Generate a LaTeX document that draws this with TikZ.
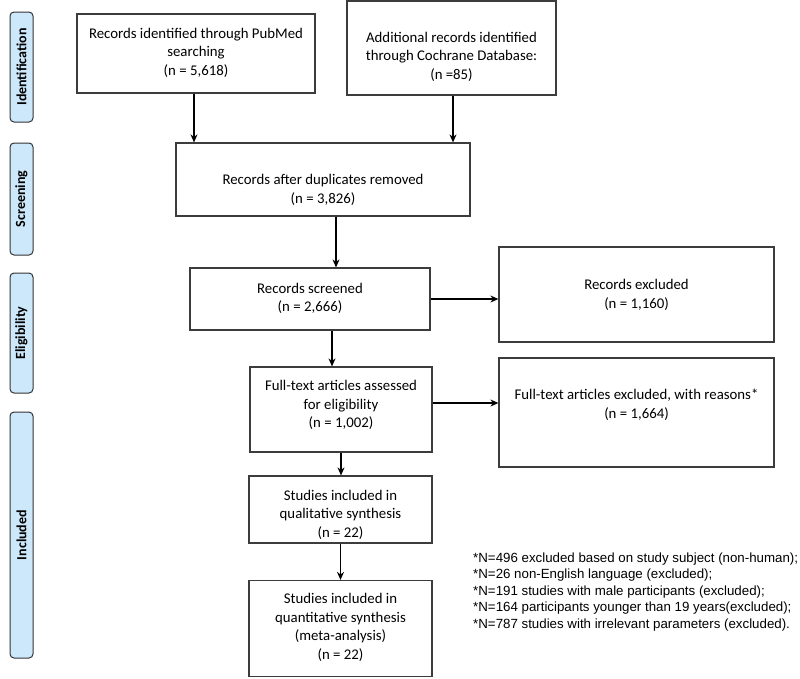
\documentclass[tikz,border=0pt]{standalone}
\usepackage{fontspec}
\setmainfont{Carlito}
\newfontfamily\notefont{Liberation Sans}
\usetikzlibrary{arrows.meta}
\definecolor{barfill}{RGB}{204,232,250}
\definecolor{boxline}{RGB}{60,60,60}
\tikzset{
  box/.style={draw=boxline, line width=1.2pt, fill=white, inner sep=0pt},
  txt/.style={align=center, inner sep=0pt, font=\fontsize{14.8}{18.5}\selectfont},
  phase/.style={draw=black!80, line width=1pt, fill=barfill, rounded corners=4pt, inner sep=0pt, minimum width=23pt},
  phasetxt/.style={rotate=90, inner sep=0pt, font=\bfseries\fontsize{14}{16}\selectfont},
  arr/.style={line width=1.2pt, -{Stealth[length=8pt,width=7pt]}},
}
\begin{document}
\begin{tikzpicture}[x=1pt,y=-1pt]
\useasboundingbox (0,0) rectangle (800,678);
% phase bars
\node[phase, minimum height=110pt] (pI) at (21.5,67) {};
\node[phasetxt] (tI) at (pI.center) {Identification};
\node[phase, minimum height=112pt] (pS) at (21.5,199) {};
\node[phasetxt] (tS) at (pS.center) {Screening};
\node[phase, minimum height=120pt] (pE) at (21.5,333) {};
\node[phasetxt] (tE) at (pE.center) {Eligibility};
\node[phase, minimum height=246pt] (pN) at (21.5,535) {};
\node[phasetxt] (tN) at (pN.center) {Included};
% boxes
\node[box, minimum width=238pt, minimum height=79pt] (b1) at (196,53.5) {};
\node[txt] (t1) at (196,52.5) {Records identified through PubMed\\searching\\(n = 5,618)};
\node[box, minimum width=209pt, minimum height=94pt] (b2) at (451.5,48) {};
\node[txt] (t2) at (451.5,56.5) {Additional records identified\\through Cochrane Database:\\(n =85)};
\node[box, minimum width=294pt, minimum height=73pt] (b3) at (323,179.5) {};
\node[txt] (t3) at (323,190) {Records after duplicates removed\\(n = 3,826)};
\node[box, minimum width=240pt, minimum height=62pt] (b4) at (310,299) {};
\node[txt] (t4) at (310,298.5) {Records screened\\(n = 2,666)};
\node[box, minimum width=275pt, minimum height=95pt] (b5) at (636.5,294.5) {};
\node[txt] (t5) at (636.5,295) {Records excluded\\(n = 1,160)};
\node[box, minimum width=182pt, minimum height=85pt] (b6) at (341,409.5) {};
\node[txt] (t6) at (341,405) {Full-text articles assessed\\for eligibility\\(n = 1,002)};
\node[box, minimum width=275pt, minimum height=109pt] (b7) at (636.5,412.5) {};
\node[txt] (t7) at (636.5,405) {Full-text articles excluded, with reasons*\\(n = 1,664)};
\node[box, minimum width=183pt, minimum height=67pt] (b8) at (340.5,509.5) {};
\node[txt] (t8) at (340.5,514.5) {Studies included in\\qualitative synthesis\\(n = 22)};
\node[box, minimum width=183pt, minimum height=96pt] (b9) at (340.5,628.5) {};
\node[txt] (t9) at (340.5,627.5) {Studies included in\\quantitative synthesis\\(meta-analysis)\\(n = 22)};
% footnote
\node[anchor=west, align=left, inner sep=0pt, font=\notefont\fontsize{13.3}{16.5}\selectfont] (note) at (473,592) {*N=496 excluded based on study subject (non-human);\\*N=26 non-English language (excluded);\\*N=191 studies with male participants (excluded);\\*N=164 participants younger than 19 years(excluded);\\*N=787 studies with irrelevant parameters (excluded).};
% arrows
\draw[arr] ([xshift=-2pt]b1.south) -- ([xshift=-2pt]b1.south |- b3.north);
\draw[arr] ([xshift=1.5pt]b2.south) -- ([xshift=1.5pt]b2.south |- b3.north);
\draw[arr] ([xshift=13pt]b3.south) -- ([xshift=13pt]b3.south |- b4.north);
\draw[arr] (b4.east) -- (b4.east -| b5.west);
\draw[arr] ([xshift=22pt]b4.south) -- ([xshift=22pt]b4.south |- b6.north);
\draw[arr] ([yshift=6.5pt]b6.east) -- ([yshift=6.5pt]b6.east -| b7.west);
\draw[arr] (b6.south) -- (b6.south |- b8.north);
\draw[arr] (b8.south) -- (b8.south |- b9.north);
\end{tikzpicture}
\end{document}
